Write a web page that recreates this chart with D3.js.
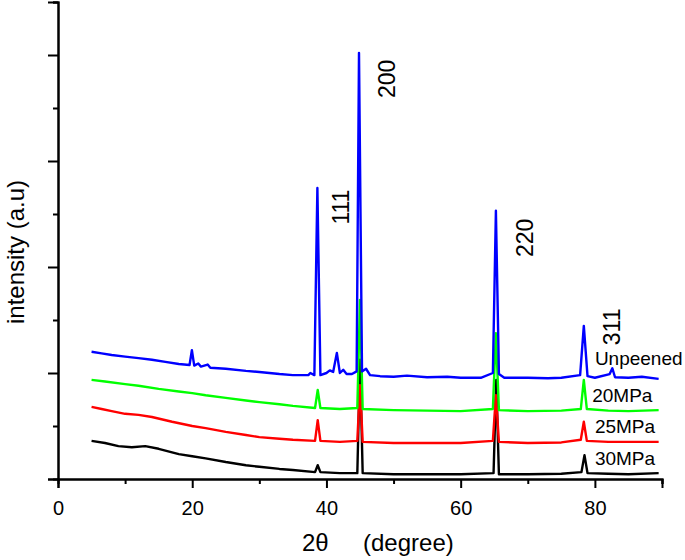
<!DOCTYPE html>
<html>
<head>
<meta charset="utf-8">
<script src="https://cdn.jsdelivr.net/npm/d3@7"></script>
<style>
  body { margin: 0; background: #fff; }
  text { font-family: Arial, "Liberation Sans", sans-serif; }
</style>
</head>
<body>
<div id="chart"></div>
<script>
// 2theta / intensity pairs
var unpeened = [
  [5, 2.40], [6.5, 2.37], [8, 2.34], [10, 2.31], [12, 2.28], [14, 2.25], [16, 2.21], [18, 2.17],
  [19.6, 2.15], [19.95, 2.43], [20.3, 2.14], [20.9, 2.18], [21.3, 2.12], [22.3, 2.16], [22.7, 2.10],
  [25, 2.08], [28, 2.04], [30, 2.02], [33, 1.98], [35, 1.96], [37.3, 1.96], [37.6, 2.00], [38.2, 1.96],
  [38.65, 5.49], [39.1, 1.96], [40, 2.00], [40.5, 2.05], [41.0, 2.02], [41.55, 2.38], [42.0, 2.00],
  [42.5, 2.06], [43.0, 1.98], [43.8, 1.98], [44.5, 2.03], [44.85, 8.04], [45.3, 2.03], [45.9, 2.08],
  [46.5, 1.96], [48, 1.94], [50, 1.93], [52, 1.95], [55, 1.92], [58, 1.93], [60, 1.91], [63, 1.91],
  [64.8, 2.00], [65.25, 5.06], [65.7, 1.98], [66.5, 1.91], [70, 1.91], [73, 1.90], [75, 1.91],
  [77.8, 1.96], [78.35, 2.89], [78.9, 1.94], [80, 1.91], [82.2, 1.98], [82.6, 2.09], [83.0, 1.92],
  [85, 1.91], [87, 1.93], [89.5, 1.89]
];
var mpa20 = [
  [5, 1.87], [7, 1.84], [10, 1.79], [12, 1.76], [15, 1.70], [18, 1.65], [20, 1.62], [22, 1.58],
  [25, 1.53], [28, 1.48], [30, 1.45], [33, 1.41], [35, 1.38], [38.3, 1.34], [38.7, 1.68], [39.1, 1.34],
  [42, 1.32], [44.6, 1.34], [45.0, 3.38], [45.4, 1.32], [50, 1.30], [55, 1.29], [60, 1.28],
  [64.8, 1.32], [65.25, 2.75], [65.7, 1.30], [70, 1.28], [75, 1.29], [77.9, 1.32], [78.35, 1.87],
  [78.8, 1.32], [82, 1.29], [85, 1.28], [89.5, 1.30]
];
var mpa25 = [
  [5, 1.36], [6.5, 1.32], [8, 1.28], [10, 1.23], [12, 1.21], [14, 1.17], [17, 1.08], [20, 1.00],
  [22, 0.96], [25, 0.89], [28, 0.83], [30, 0.79], [33, 0.76], [35, 0.74], [38.3, 0.72], [38.7, 1.11],
  [39.1, 0.72], [42, 0.70], [44.6, 0.72], [45.0, 1.77], [45.4, 0.70], [50, 0.68], [55, 0.68],
  [60, 0.68], [64.8, 0.72], [65.25, 1.58], [65.7, 0.70], [70, 0.68], [75, 0.69], [77.9, 0.74],
  [78.35, 1.08], [78.8, 0.72], [82, 0.70], [85, 0.70], [89.5, 0.70]
];
var mpa30 = [
  [5, 0.72], [7, 0.68], [9, 0.62], [11, 0.60], [13, 0.62], [15, 0.57], [18, 0.47], [20, 0.43],
  [22, 0.39], [25, 0.32], [28, 0.26], [30, 0.23], [33, 0.19], [35, 0.17], [38.3, 0.13], [38.7, 0.26],
  [39.1, 0.13], [42, 0.11], [44.6, 0.11], [45.0, 2.25], [45.4, 0.11], [50, 0.09], [55, 0.09],
  [60, 0.09], [64.9, 0.11], [65.3, 1.87], [65.7, 0.09], [70, 0.09], [75, 0.10], [78.0, 0.13],
  [78.45, 0.45], [78.9, 0.11], [82, 0.10], [85, 0.09], [89.5, 0.11]
];

var seriesNames = ["30MPa", "25MPa", "20MPa", "Unpeened"];
var seriesColors = ["#000000", "#ff0000", "#00ff00", "#0000ff"];
var seriesData = [mpa30, mpa25, mpa20, unpeened];

var peakLabels = ["111", "200", "220", "311"];
var peakX = [43.4, 50.2, 70.8, 83.7];
var peakY = [5.13, 7.55, 4.55, 2.87];

var xMajor = [0, 20, 40, 60, 80];
var xMinor = [10, 30, 50, 70, 90];
var yMajor = [0, 2, 4, 6, 8];
var yMinor = [1, 3, 5, 7, 9];

var width = 685, height = 560;
var x = d3.scaleLinear().domain([0, 90]).range([58, 662]);
var y = d3.scaleLinear().domain([0, 9]).range([479, 2]);

var svg = d3.select("#chart").append("svg")
  .attr("width", width)
  .attr("height", height);

svg.append("rect")
  .attr("width", width)
  .attr("height", height)
  .attr("fill", "white");

// spectra
var line = d3.line()
  .x(function (d) { return x(d[0]); })
  .y(function (d) { return y(d[1]); });

svg.append("g")
  .selectAll("path")
  .data(seriesData)
  .join("path")
  .attr("d", line)
  .attr("fill", "none")
  .attr("stroke", function (d, i) { return seriesColors[i]; })
  .attr("stroke-width", 2.4)
  .attr("stroke-linejoin", "round");

// axes, minor and major ticks in their own groups
svg.append("g")
  .attr("transform", "translate(0," + y(0) + ")")
  .call(d3.axisBottom(x).tickValues(xMinor).tickSize(5).tickFormat(""));
svg.append("g")
  .attr("transform", "translate(0," + y(0) + ")")
  .call(d3.axisBottom(x).tickValues(xMajor).tickSize(9).tickPadding(13).tickFormat(d3.format("d")));

svg.append("g")
  .attr("transform", "translate(" + x(0) + ",0)")
  .call(d3.axisLeft(y).tickValues(yMinor).tickSize(5).tickFormat(""));
svg.append("g")
  .attr("transform", "translate(" + x(0) + ",0)")
  .call(d3.axisLeft(y).tickValues(yMajor).tickSize(10).tickFormat(""));

svg.selectAll(".domain, .tick line")
  .attr("stroke", "black")
  .attr("stroke-width", 2);
svg.selectAll(".tick text")
  .attr("font-size", 20)
  .attr("fill", "black");

// axis titles
var xt = svg.append("text")
  .attr("y", 551)
  .attr("font-size", 24);
xt.append("tspan").attr("x", 302).text("2θ");
xt.append("tspan").attr("x", 363).text("(degree)");

svg.append("text")
  .attr("transform", "translate(24,252) rotate(-90)")
  .attr("text-anchor", "middle")
  .attr("font-size", 24)
  .text("intensity (a.u)");

// peak labels
svg.append("g")
  .selectAll("text")
  .data(peakLabels)
  .join("text")
  .attr("transform", function (d, i) {
    return "translate(" + x(peakX[i]) + "," + y(peakY[i]) + ") rotate(-90)";
  })
  .attr("text-anchor", "middle")
  .attr("font-size", 23)
  .text(function (d) { return d; });

// series labels
var labelY = [0.27, 0.87, 1.46, 2.15];
svg.append("g")
  .selectAll("text")
  .data(seriesNames)
  .join("text")
  .attr("x", function (d, i) { return x(i == 2 ? 79.6 : 80.0); })
  .attr("y", function (d, i) { return y(labelY[i]); })
  .attr("font-size", 19)
  .text(function (d) { return d; });
</script>
</body>
</html>
